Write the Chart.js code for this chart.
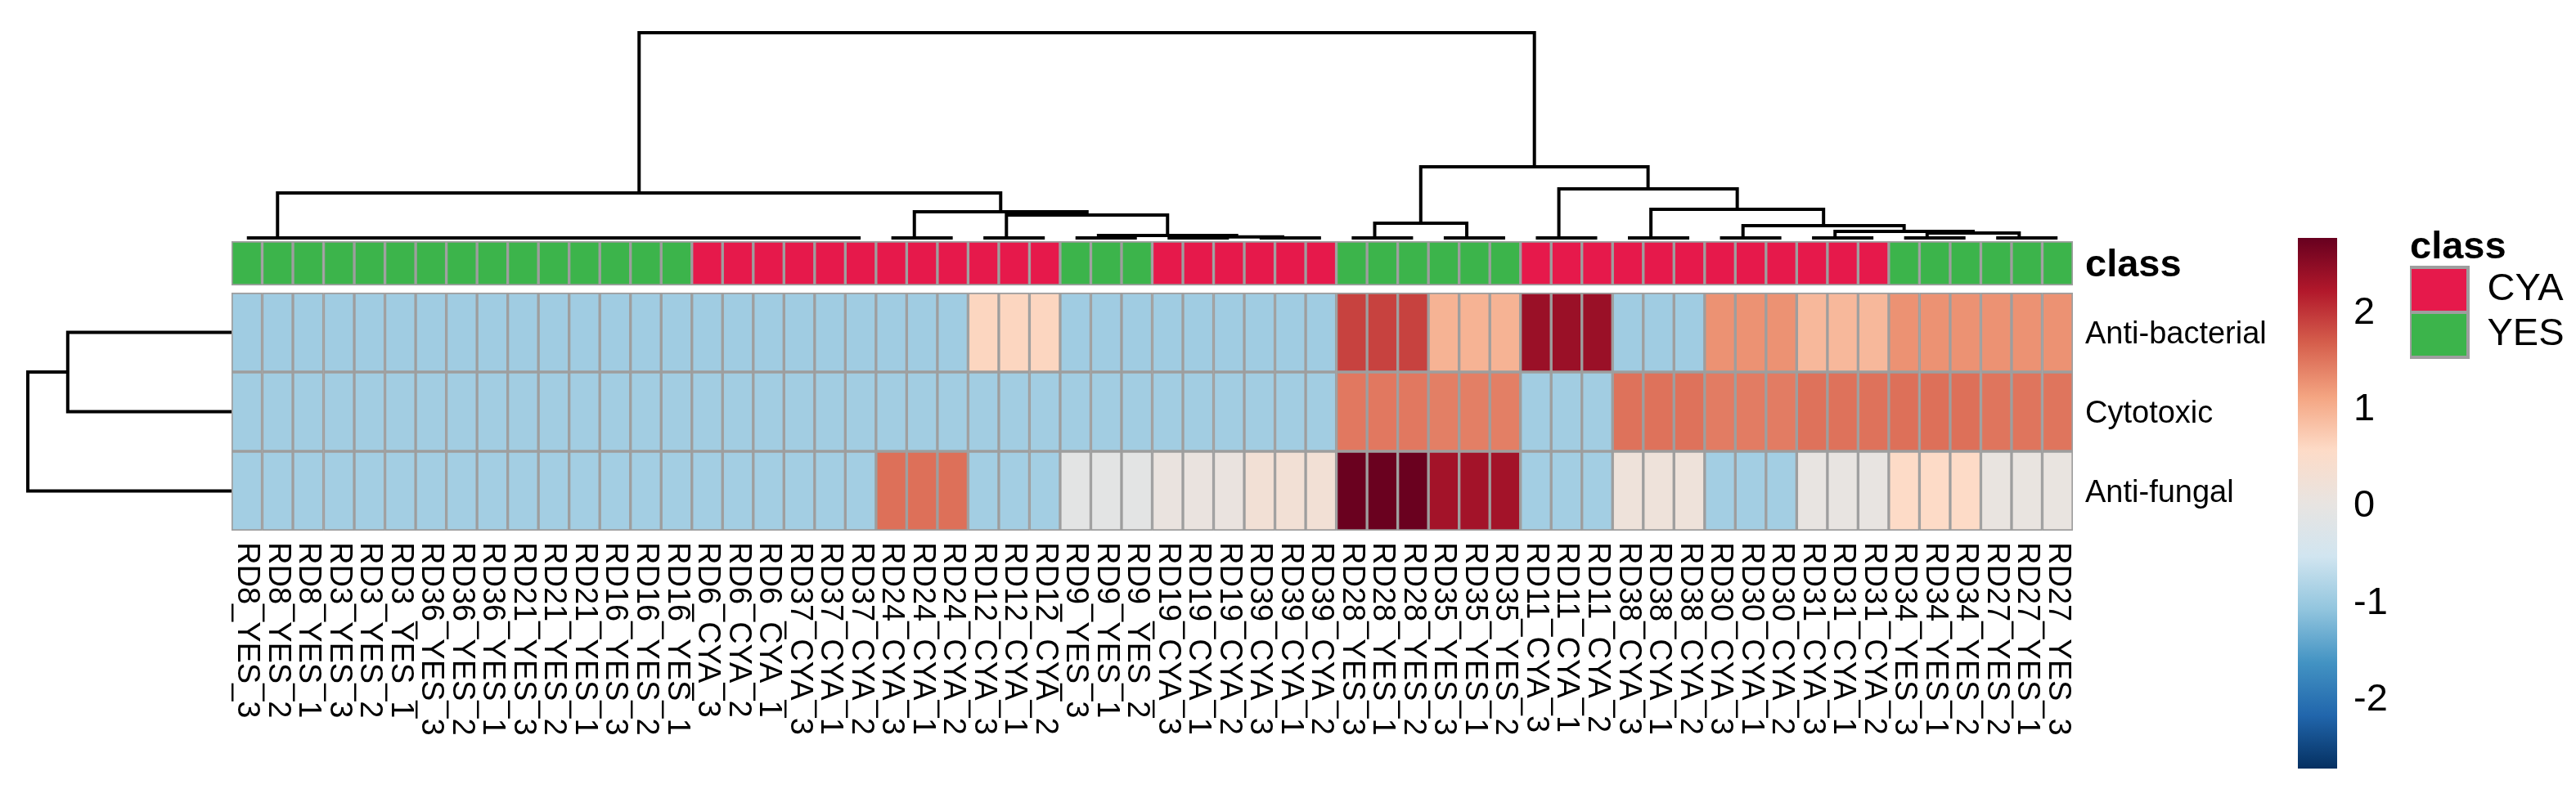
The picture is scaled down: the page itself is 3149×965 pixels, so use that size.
<!DOCTYPE html>
<html>
<head>
<meta charset="utf-8">
<title>Heatmap</title>
<script src="https://cdn.jsdelivr.net/npm/chart.js@4.4.1/dist/chart.umd.min.js"></script>
<style>
  html, body { margin: 0; padding: 0; background: #fff; }
  #wrap { position: relative; width: 3149px; height: 965px; }
  #heat { position: absolute; left: 0; top: 0; }
  #scale { position: absolute; left: 2760px; top: 0; }
</style>
</head>
<body>
<div id="wrap">
  <canvas id="heat" width="3149" height="965"></canvas>
  <canvas id="scale" width="190" height="965"></canvas>
</div>
<script>
const FONT = '"Liberation Sans", Arial, sans-serif';

// columns, in the order of the column dendrogram
const colNames = [
  'RD8_YES_3', 'RD8_YES_2', 'RD8_YES_1', 'RD3_YES_3', 'RD3_YES_2', 'RD3_YES_1',
  'RD36_YES_3', 'RD36_YES_2', 'RD36_YES_1', 'RD21_YES_3', 'RD21_YES_2', 'RD21_YES_1',
  'RD16_YES_3', 'RD16_YES_2', 'RD16_YES_1', 'RD6_CYA_3', 'RD6_CYA_2', 'RD6_CYA_1',
  'RD37_CYA_3', 'RD37_CYA_1', 'RD37_CYA_2', 'RD24_CYA_3', 'RD24_CYA_1', 'RD24_CYA_2',
  'RD12_CYA_3', 'RD12_CYA_1', 'RD12_CYA_2', 'RD9_YES_3', 'RD9_YES_1', 'RD9_YES_2',
  'RD19_CYA_3', 'RD19_CYA_1', 'RD19_CYA_2', 'RD39_CYA_3', 'RD39_CYA_1', 'RD39_CYA_2',
  'RD28_YES_3', 'RD28_YES_1', 'RD28_YES_2', 'RD35_YES_3', 'RD35_YES_1', 'RD35_YES_2',
  'RD11_CYA_3', 'RD11_CYA_1', 'RD11_CYA_2', 'RD38_CYA_3', 'RD38_CYA_1', 'RD38_CYA_2',
  'RD30_CYA_3', 'RD30_CYA_1', 'RD30_CYA_2', 'RD31_CYA_3', 'RD31_CYA_1', 'RD31_CYA_2',
  'RD34_YES_3', 'RD34_YES_1', 'RD34_YES_2', 'RD27_YES_2', 'RD27_YES_1', 'RD27_YES_3'
];
const colClass = colNames.map(n => n.indexOf('CYA') >= 0 ? 'CYA' : 'YES');

const rowNames = ['Anti-bacterial', 'Cytotoxic', 'Anti-fungal'];

// scaled values, one per column
const antiBacterial = [
  -0.97, -0.97, -0.97, -0.97, -0.97, -0.97, -0.97, -0.97, -0.97, -0.97, -0.97, -0.97,
  -0.97, -0.97, -0.97, -0.97, -0.97, -0.97, -0.97, -0.97, -0.97, -0.97, -0.97, -0.97,
  0.60, 0.60, 0.60, -0.97, -0.97, -0.97, -0.97, -0.97, -0.97, -0.97, -0.97, -0.97,
  1.87, 1.87, 1.87, 0.95, 0.95, 0.95, 2.37, 2.37, 2.37, -0.97, -0.97, -0.97,
  1.25, 1.25, 1.25, 0.90, 0.90, 0.90, 1.25, 1.25, 1.25, 1.25, 1.25, 1.25
];
const cytotoxic = [
  -0.96, -0.96, -0.96, -0.96, -0.96, -0.96, -0.96, -0.96, -0.96, -0.96, -0.96, -0.96,
  -0.96, -0.96, -0.96, -0.96, -0.96, -0.96, -0.96, -0.96, -0.96, -0.96, -0.96, -0.96,
  -0.96, -0.96, -0.96, -0.96, -0.96, -0.96, -0.96, -0.96, -0.96, -0.96, -0.96, -0.96,
  1.45, 1.45, 1.45, 1.40, 1.40, 1.40, -0.96, -0.96, -0.96, 1.50, 1.50, 1.50,
  1.42, 1.42, 1.42, 1.50, 1.50, 1.50, 1.52, 1.52, 1.52, 1.48, 1.48, 1.48
];
const antiFungal = [
  -0.95, -0.95, -0.95, -0.95, -0.95, -0.95, -0.95, -0.95, -0.95, -0.95, -0.95, -0.95,
  -0.95, -0.95, -0.95, -0.95, -0.95, -0.95, -0.95, -0.95, -0.95, 1.52, 1.52, 1.52,
  -0.95, -0.95, -0.95, -0.12, -0.12, -0.12, 0.05, 0.05, 0.05, 0.25, 0.25, 0.25,
  2.72, 2.72, 2.72, 2.30, 2.30, 2.30, -0.95, -0.95, -0.95, 0.15, 0.15, 0.15,
  -0.95, -0.95, -0.95, 0.00, 0.00, 0.00, 0.55, 0.55, 0.55, 0.02, 0.02, 0.02
];

const classNames = ['CYA', 'YES'];
const classColors = { CYA: '#E6194B', YES: '#3CB44B' };

// colour scale
const scaleMin = -2.74;
const scaleMax = 2.74;
const scaleTicks = [-2, -1, 0, 1, 2];
const paletteStops = ['#053061', '#2166AC', '#4393C3', '#92C5DE', '#D1E5F0', '#E8E4E1',
  '#FDDBC7', '#F4A582', '#D6604D', '#B2182B', '#67001F'];

// dendrograms: [height, left, right], a number is a leaf index
function triplet(a) { return [0, a, [0, a + 1, a + 2]]; }
function leafChain(a, b) { return a === b ? a : [0, a, leafChain(a + 1, b)]; }

const colTree = [10.0,
  [2.19, leafChain(0, 20),
    [1.27, triplet(21), [1.12, triplet(24), [0.12, triplet(27), [0.05, triplet(30), triplet(33)]]]]],
  [3.47,
    [0.72, triplet(36), triplet(39)],
    [2.39, triplet(42), [1.39, triplet(45), [0.60, triplet(48), [0.32, triplet(51), [0.24, triplet(54), triplet(57)]]]]]]];

// rows: 2 = Anti-bacterial, 1 = Cytotoxic, 0 = Anti-fungal
const rowTree = [5.0, [4.02, 2, 1], 0];

// ---- layout (pixels)
const heatLeft = 283, heatRight = 2534, heatBottom = 649, plotTop = 30;
const rowPx = 97;
const annoTopPx = 295, annoBottomPx = 349;
const colLeafPx = 291, colRootPx = 40;
const rowRootPx = 34;
const legendLeft = 2946, legendWidth = 195;

const yMax = (heatBottom - plotTop) / rowPx;
const annoLo = (heatBottom - annoBottomPx) / rowPx;
const annoHi = (heatBottom - annoTopPx) / rowPx;

// scale for column dendrogram heights
const f0 = (heatBottom - colLeafPx) / (heatBottom - plotTop);
const f1 = (heatBottom - colRootPx) / (heatBottom - plotTop);
const ydRange = colTree[0] / (f1 - f0);
const ydMin = -f0 * ydRange;
const ydMax = ydMin + ydRange;

// scale for row dendrogram heights (grows to the left)
const xdWidth = rowTree[0] * (heatRight - heatLeft) / (heatLeft - rowRootPx);

function hexToRgb(h) {
  return [parseInt(h.slice(1, 3), 16), parseInt(h.slice(3, 5), 16), parseInt(h.slice(5, 7), 16)];
}
function valueColor(v) {
  let t = (v - scaleMin) / (scaleMax - scaleMin);
  t = Math.max(0, Math.min(1, t)) * (paletteStops.length - 1);
  const i = Math.min(Math.floor(t), paletteStops.length - 2);
  const f = t - i;
  const a = hexToRgb(paletteStops[i]), b = hexToRgb(paletteStops[i + 1]);
  const c = a.map((x, k) => Math.round(x + (b[k] - x) * f));
  return `rgb(${c[0]},${c[1]},${c[2]})`;
}

// walk a tree and collect the elbow lines
function walkTree(node, pts, swap) {
  if (typeof node === 'number') return { pos: node + 0.5, h: 0 };
  const [h, left, right] = node;
  const a = walkTree(left, pts, swap);
  const b = walkTree(right, pts, swap);
  [[a.pos, a.h], [a.pos, h], [b.pos, h], [b.pos, b.h]].forEach(([p, v]) => {
    pts.push(swap ? { x: v, y: p } : { x: p, y: v });
  });
  pts.push({ x: NaN, y: NaN });
  return { pos: (a.pos + b.pos) / 2, h };
}
const colDendro = [];
walkTree(colTree, colDendro, false);
const rowDendro = [];
walkTree(rowTree, rowDendro, true);

const rowValues = [antiBacterial, cytotoxic, antiFungal];
const cellBorder = '#9E9E9E';

const heatSets = rowValues.map((vals, r) => ({
  type: 'bar',
  label: rowNames[r],
  data: vals.map((v, i) => ({ x: i + 0.5, y: [2 - r, 3 - r] })),
  backgroundColor: vals.map(valueColor),
  borderColor: cellBorder,
  borderWidth: 2,
  borderSkipped: false,
  grouped: false,
  barPercentage: 1,
  categoryPercentage: 1,
  xAxisID: 'x',
  yAxisID: 'y'
}));

const annoSets = classNames.map(cls => ({
  type: 'bar',
  label: cls,
  data: colNames.map((n, i) => i).filter(i => colClass[i] === cls).map(i => ({ x: i + 0.5, y: [annoLo, annoHi] })),
  backgroundColor: classColors[cls],
  borderColor: cellBorder,
  borderWidth: 2,
  borderSkipped: false,
  grouped: false,
  barPercentage: 1,
  categoryPercentage: 1,
  xAxisID: 'x',
  yAxisID: 'y'
}));

const lineStyle = {
  type: 'line',
  borderColor: '#000',
  borderWidth: 4,
  pointRadius: 0,
  tension: 0,
  fill: false,
  spanGaps: false,
  clip: false
};

const rowTickValues = [0.5, 1.5, 2.5, (annoLo + annoHi) / 2];

// hidden helper scales: pin their bounds so nothing rounds them
function pinned(min, max, extra) {
  return Object.assign({
    type: 'linear', display: false, offset: false, bounds: 'data', grace: 0, beginAtZero: false,
    min, max,
    afterDataLimits: s => { s.min = min; s.max = max; },
    afterBuildTicks: s => { s.min = min; s.max = max; s.ticks = [{ value: min }, { value: max }]; }
  }, extra);
}

// column labels run top to bottom under the cells
const colLabelPlugin = {
  id: 'colLabels',
  afterDraw(chart) {
    const { ctx, chartArea, scales } = chart;
    ctx.save();
    ctx.font = `38px ${FONT}`;
    ctx.fillStyle = '#000';
    ctx.textAlign = 'left';
    ctx.textBaseline = 'middle';
    colNames.forEach((name, i) => {
      const x = scales.x.getPixelForValue(i + 0.5);
      ctx.save();
      ctx.translate(x, chartArea.bottom + 14);
      ctx.rotate(Math.PI / 2);
      ctx.fillText(name, 0, 0);
      ctx.restore();
    });
    ctx.restore();
  }
};

new Chart(document.getElementById('heat'), {
  type: 'bar',
  data: {
    datasets: [
      ...heatSets,
      ...annoSets,
      Object.assign({ label: 'col tree', data: colDendro, xAxisID: 'x', yAxisID: 'yd' }, lineStyle),
      Object.assign({ label: 'row tree', data: rowDendro, xAxisID: 'xd', yAxisID: 'y' }, lineStyle)
    ]
  },
  options: {
    responsive: false,
    animation: false,
    devicePixelRatio: 1,
    events: [],
    layout: {
      autoPadding: false,
      padding: { left: heatLeft, top: plotTop, bottom: 965 - heatBottom, right: 3149 - legendLeft - legendWidth }
    },
    scales: {
      x: pinned(0, colNames.length, { axis: 'x' }),
      xd: pinned(-xdWidth, 0, { axis: 'x', reverse: true }),
      yd: pinned(ydMin, ydMax, { axis: 'y', position: 'left' }),
      y: {
        type: 'linear',
        position: 'right',
        min: 0,
        max: yMax,
        grid: { display: false, drawTicks: false },
        border: { display: false },
        afterBuildTicks: s => { s.ticks = rowTickValues.map(v => ({ value: v })); },
        afterFit: s => { s.width = legendLeft - heatRight; s.paddingTop = 0; s.paddingBottom = 0; },
        ticks: {
          autoSkip: false,
          padding: 15,
          labelOffset: 3,
          color: '#000',
          font: c => (c.tick && c.tick.value > 3)
            ? { family: FONT, size: 47, weight: 'bold' }
            : { family: FONT, size: 38 },
          callback: v => v > 3 ? 'class' : rowNames[2 - Math.floor(v)]
        }
      }
    },
    plugins: {
      tooltip: { enabled: false },
      legend: {
        position: 'right',
        align: 'start',
        maxWidth: legendWidth,
        title: {
          display: true,
          text: 'class',
          position: 'start',
          color: '#000',
          font: { family: FONT, size: 47, weight: 'bold', lineHeight: 1 },
          padding: { top: 250, bottom: 0 }
        },
        labels: {
          boxWidth: 71,
          boxHeight: 55,
          padding: 0,
          color: '#000',
          font: { family: FONT, size: 47 },
          generateLabels: () => classNames.map(cls => ({
            text: cls,
            fillStyle: classColors[cls],
            strokeStyle: cellBorder,
            lineWidth: 4,
            hidden: false
          }))
        }
      }
    }
  },
  plugins: [colLabelPlugin]
});

// colour key
new Chart(document.getElementById('scale'), {
  type: 'bar',
  data: {
    labels: [''],
    datasets: [{
      data: [[scaleMin, scaleMax]],
      borderWidth: 0,
      barPercentage: 1,
      categoryPercentage: 1,
      backgroundColor: c => {
        const chart = c.chart;
        if (!chart.chartArea) return paletteStops[5];
        const ys = chart.scales.y;
        const g = chart.ctx.createLinearGradient(0, ys.getPixelForValue(scaleMax), 0, ys.getPixelForValue(scaleMin));
        const n = paletteStops.length - 1;
        paletteStops.forEach((col, k) => g.addColorStop(1 - k / n, col));
        return g;
      }
    }]
  },
  options: {
    responsive: false,
    animation: false,
    devicePixelRatio: 1,
    events: [],
    layout: { autoPadding: false, padding: { left: 49, right: 3, top: 291, bottom: 25 } },
    plugins: { legend: { display: false }, tooltip: { enabled: false } },
    scales: {
      x: { display: false },
      y: {
        position: 'right',
        min: scaleMin,
        max: scaleMax,
        grid: { display: false, drawTicks: false },
        border: { display: false },
        afterBuildTicks: s => { s.ticks = scaleTicks.map(v => ({ value: v })); },
        afterFit: s => { s.width = 90; s.paddingTop = 0; s.paddingBottom = 0; },
        ticks: { color: '#000', padding: 20, labelOffset: 4, font: { family: FONT, size: 47 } }
      }
    }
  }
});
</script>
</body>
</html>
